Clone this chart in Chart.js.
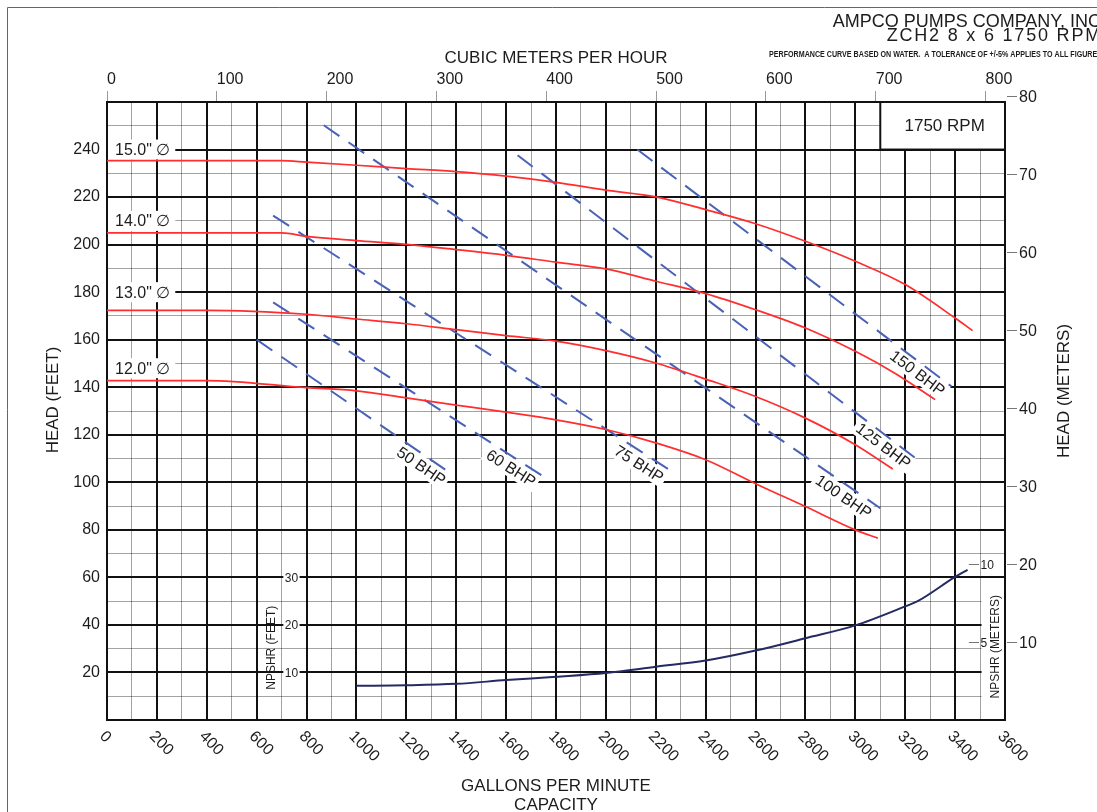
<!DOCTYPE html>
<html>
<head>
<meta charset="utf-8">
<title>ZCH2 8 x 6 1750 RPM</title>
<script src="https://cdn.jsdelivr.net/npm/chart.js@4.4.1/dist/chart.umd.min.js"></script>
<style>
  html, body { margin: 0; padding: 0; background: #fff; }
  #wrap { position: relative; width: 1097px; height: 812px; }
</style>
</head>
<body>
<div id="wrap"><canvas id="chart"></canvas></div>
<script>
// head curves, flow in US gpm, head in feet
const flow15 = [0, 700, 800, 1000, 1200, 1400, 1600, 1800, 2000, 2200, 2400, 2600, 2800, 3000, 3200, 3400, 3470];
const head15 = [235.3, 235.3, 234.7, 233.4, 232, 230.7, 228.8, 226.2, 222.9, 220.1, 214.7, 208.8, 201.4, 193, 183.2, 169.1, 163.8];
const flow14 = [0, 700, 800, 1000, 1200, 1400, 1600, 1800, 2000, 2200, 2400, 2600, 2800, 3000, 3160, 3320];
const head14 = [204.9, 204.9, 203.5, 201.7, 200.1, 197.9, 195.5, 192.6, 189.8, 184.6, 179.4, 172.6, 164.9, 155.1, 145.8, 134.8];
const flow13 = [0, 400, 800, 1000, 1200, 1400, 1600, 1800, 2000, 2200, 2400, 2600, 2800, 3000, 3150];
const head13 = [172.3, 172.3, 170.7, 168.7, 166.7, 164.2, 161.7, 159.4, 155.4, 150.2, 143.4, 136.1, 127, 115.8, 105.6];
const flow12 = [0, 400, 800, 1000, 1200, 1400, 1600, 1800, 2000, 2200, 2400, 2600, 2800, 3000, 3090];
const head12 = [142.8, 142.8, 139.8, 138.5, 135.5, 132.5, 129.5, 126.3, 122.2, 116.6, 109.5, 99.4, 89.8, 80, 76.5];
const impellerLabels = ['15.0" \u2205', '14.0" \u2205', '13.0" \u2205', '12.0" \u2205'];
const impellerLabelHead = [240, 210, 180, 148];

// brake horsepower lines (start / end points)
const bhpLabels = ['50 BHP', '60 BHP', '75 BHP', '100 BHP', '125 BHP', '150 BHP'];
const bhpStartGpm = [600, 666, 666, 869, 1646, 2126];
const bhpStartHead = [160, 175.7, 212.2, 250.2, 237.6, 240];
const bhpEndGpm = [1373, 1746, 2266, 3100, 3246, 3386];
const bhpEndHead = [104.1, 102.7, 104.5, 89.1, 109.8, 140.3];
const bhpLabelGpm = [1260, 1620, 2133, 2953, 3113, 3250];
const bhpLabelHead = [106.9, 106, 107.8, 94, 115.4, 146];

// NPSHR, feet
const npshFlow = [1000, 1200, 1400, 1600, 1800, 2000, 2200, 2400, 2600, 2800, 3000, 3200, 3250, 3400, 3450];
const npshFeet = [7.2, 7.3, 7.6, 8.4, 9.1, 9.9, 11.2, 12.5, 14.6, 17.2, 19.9, 23.9, 25, 30.1, 31.6];

// axis ticks
const gpmTicks = [0, 200, 400, 600, 800, 1000, 1200, 1400, 1600, 1800, 2000, 2200, 2400, 2600, 2800, 3000, 3200, 3400, 3600];
const m3hTicks = [0, 100, 200, 300, 400, 500, 600, 700, 800];
const headFtTicks = [20, 40, 60, 80, 100, 120, 140, 160, 180, 200, 220, 240];
const headMTicks = [10, 20, 30, 40, 50, 60, 70, 80];
const npshFtTicks = [10, 20, 30];
const npshMTicks = [5, 10];

const GPM_PER_M3H = 4.40287;
const FT_PER_M = 3.28084;
const FONT = 'Arial, "Liberation Sans", Helvetica, sans-serif';
const INK = '#1c1c1c';
const RED = '#ff2d2d';
const BLUE = '#4962b6';
const NAVY = '#242a62';

function pts(xs, ys) {
  return xs.map((x, i) => ({ x: x, y: ys[i] }));
}

function gridColor(major) {
  return ctx => (ctx.tick && ctx.tick.value % major === 0) ? '#111' : 'rgba(0,0,0,0.36)';
}
function gridWidth(major) {
  return ctx => (ctx.tick && ctx.tick.value % major === 0) ? 2 : 1;
}

const datasets = [];
[[flow15, head15], [flow14, head14], [flow13, head13], [flow12, head12]].forEach(c => {
  datasets.push({
    data: pts(c[0], c[1]),
    borderColor: RED,
    borderWidth: 1.7,
    pointRadius: 0,
    cubicInterpolationMode: 'monotone',
    yAxisID: 'y'
  });
});
bhpLabels.forEach((lab, i) => {
  datasets.push({
    data: pts([bhpStartGpm[i], bhpEndGpm[i]], [bhpStartHead[i], bhpEndHead[i]]),
    borderColor: BLUE,
    borderWidth: 2,
    borderDash: [19, 11],
    pointRadius: 0,
    yAxisID: 'y'
  });
});
datasets.push({
  data: pts(npshFlow, npshFeet),
  borderColor: NAVY,
  borderWidth: 2,
  pointRadius: 0,
  cubicInterpolationMode: 'monotone',
  yAxisID: 'yN'
});

function bhpLabelPos(chart, i) {
  const x = chart.scales.x, y = chart.scales.y;
  const dx = x.getPixelForValue(bhpEndGpm[i]) - x.getPixelForValue(bhpStartGpm[i]);
  const dy = y.getPixelForValue(bhpEndHead[i]) - y.getPixelForValue(bhpStartHead[i]);
  return {
    x: x.getPixelForValue(bhpLabelGpm[i]),
    y: y.getPixelForValue(bhpLabelHead[i]),
    angle: Math.atan2(dy, dx)
  };
}

const decor = {
  id: 'decor',
  beforeDraw(chart) {
    const c = chart.ctx;
    c.save();
    c.fillStyle = '#fff';
    c.fillRect(0, 0, chart.width, chart.height);
    c.strokeStyle = '#666';
    c.lineWidth = 1;
    c.beginPath();
    c.moveTo(7.5, chart.height);
    c.lineTo(7.5, 7.5);
    c.lineTo(chart.width, 7.5);
    c.stroke();
    c.restore();
  },
  beforeDatasetsDraw(chart) {
    const c = chart.ctx, a = chart.chartArea;
    const x = chart.scales.x, y = chart.scales.y, yN = chart.scales.yN;
    c.save();
    c.fillStyle = '#fff';
    c.font = '16px ' + FONT;
    impellerLabels.forEach((lab, i) => {
      const py = y.getPixelForValue(impellerLabelHead[i]);
      const w = c.measureText(lab).width;
      c.fillRect(a.left + 1, py - 10, w + 12, 20);
    });
    bhpLabels.forEach((lab, i) => {
      const p = bhpLabelPos(chart, i);
      const w = c.measureText(lab).width;
      c.save();
      c.translate(p.x, p.y);
      c.rotate(p.angle);
      c.fillRect(-w / 2 - 3, -9, w + 6, 18);
      c.restore();
    });
    npshFtTicks.forEach(v => {
      const py = yN.getPixelForValue(v);
      const x0 = x.getPixelForValue(707), x1 = x.getPixelForValue(772);
      c.fillRect(x0, py - 7, x1 - x0, 14);
    });
    const sx = x.getPixelForValue(3506);
    const sy = yN.getPixelForValue(28.5);
    c.fillRect(sx, sy, a.right - sx - 1, a.bottom - sy - 1);

    const bx = x.getPixelForValue(3100), by = y.getPixelForValue(240);
    c.fillRect(bx, a.top, a.right - bx, by - a.top);
    c.strokeStyle = '#111';
    c.lineWidth = 2;
    c.strokeRect(bx, a.top, a.right - bx, by - a.top);
    c.strokeRect(a.left, a.top, a.right - a.left, a.bottom - a.top);
    c.restore();
  },
  afterDatasetsDraw(chart) {
    const c = chart.ctx, a = chart.chartArea;
    const x = chart.scales.x, y = chart.scales.y, yN = chart.scales.yN;
    c.save();
    c.fillStyle = INK;
    c.textBaseline = 'middle';
    c.font = '16px ' + FONT;
    c.textAlign = 'left';
    impellerLabels.forEach((lab, i) => {
      c.fillText(lab, a.left + 8, y.getPixelForValue(impellerLabelHead[i]) + 1);
    });
    c.textAlign = 'center';
    bhpLabels.forEach((lab, i) => {
      const p = bhpLabelPos(chart, i);
      c.save();
      c.translate(p.x, p.y);
      c.rotate(p.angle);
      c.fillText(lab, 0, 1);
      c.restore();
    });
    c.font = '17px ' + FONT;
    const bx = x.getPixelForValue(3100), by = y.getPixelForValue(240);
    c.fillText('1750 RPM', (bx + a.right) / 2 + 2, (a.top + by) / 2 + 1);

    // NPSHR scales
    c.font = '12px ' + FONT;
    c.textAlign = 'right';
    npshFtTicks.forEach(v => {
      c.fillText(String(v), x.getPixelForValue(766), yN.getPixelForValue(v) + 1);
    });
    c.save();
    c.translate(x.getPixelForValue(661), yN.getPixelForValue(15.2));
    c.rotate(-Math.PI / 2);
    c.textAlign = 'center';
    c.fillText('NPSHR (FEET)', 0, 0);
    c.restore();

    c.strokeStyle = '#777';
    c.lineWidth = 1;
    c.textAlign = 'left';
    npshMTicks.forEach(m => {
      const py = Math.round(yN.getPixelForValue(m * FT_PER_M)) + 0.5;
      c.beginPath();
      c.moveTo(x.getPixelForValue(3455), py);
      c.lineTo(x.getPixelForValue(3496), py);
      c.stroke();
      c.fillText(String(m), x.getPixelForValue(3502), py + 1);
    });
    c.save();
    c.translate(x.getPixelForValue(3561), yN.getPixelForValue(15.4));
    c.rotate(-Math.PI / 2);
    c.textAlign = 'center';
    c.fillText('NPSHR (METERS)', 0, 0);
    c.restore();
    c.restore();
  },
  afterDraw(chart) {
    const c = chart.ctx, a = chart.chartArea;
    const x = chart.scales.x, y = chart.scales.y;
    const mid = (a.left + a.right) / 2;
    c.save();
    c.fillStyle = INK;

    // bottom gpm labels, turned 45 degrees
    c.font = '16px ' + FONT;
    c.textAlign = 'left';
    c.textBaseline = 'middle';
    gpmTicks.forEach(v => {
      c.save();
      c.translate(x.getPixelForValue(v) - 5, a.bottom + 14);
      c.rotate(Math.PI / 4);
      c.fillText(String(v), 0, 0);
      c.restore();
    });

    // right axis in meters
    c.strokeStyle = '#777';
    c.lineWidth = 1;
    headMTicks.forEach(m => {
      const py = Math.round(y.getPixelForValue(m * FT_PER_M)) + 0.5;
      c.beginPath();
      c.moveTo(a.right + 2, py);
      c.lineTo(a.right + 12, py);
      c.stroke();
      c.fillText(String(m), a.right + 14, py + 1);
    });

    // axis titles
    c.font = '17px ' + FONT;
    c.textAlign = 'center';
    c.textBaseline = 'alphabetic';
    c.fillText('CUBIC METERS PER HOUR', mid, 63);
    c.fillText('GALLONS PER MINUTE', mid, 791);
    c.fillText('CAPACITY', mid, 810);
    c.save();
    c.translate(58, 400);
    c.rotate(-Math.PI / 2);
    c.fillText('HEAD (FEET)', 0, 0);
    c.restore();
    c.save();
    c.translate(1069, 391);
    c.rotate(-Math.PI / 2);
    c.fillText('HEAD (METERS)', 0, 0);
    c.restore();

    // header
    c.textAlign = 'right';
    c.font = '18px ' + FONT;
    c.fillText('AMPCO PUMPS COMPANY, INC', 1101, 27);
    c.letterSpacing = '1.8px';
    c.fillText('ZCH2 8 x 6 1750 RPM', 1102, 41);
    c.letterSpacing = '0px';
    const note = 'PERFORMANCE CURVE BASED ON WATER.  A TOLERANCE OF +/-5% APPLIES TO ALL FIGURES';
    c.font = 'bold 9px ' + FONT;
    const w = c.measureText(note).width;
    c.save();
    c.translate(1102, 57);
    c.scale(333 / w, 1);
    c.fillText(note, 0, 0);
    c.restore();
    c.restore();
  }
};

new Chart(document.getElementById('chart'), {
  type: 'line',
  data: { datasets: datasets },
  options: {
    responsive: true,
    maintainAspectRatio: false,
    devicePixelRatio: 1,
    animation: false,
    events: [],
    layout: { padding: { left: 0, right: 92, top: 0, bottom: 0 } },
    plugins: { legend: { display: false }, tooltip: { enabled: false } },
    scales: {
      x: {
        type: 'linear', position: 'bottom', min: 0, max: 3600,
        ticks: { stepSize: 100, display: false },
        grid: { color: gridColor(200), lineWidth: gridWidth(200), drawTicks: false },
        border: { display: false },
        afterFit: s => { s.height = 92; }
      },
      xTop: {
        type: 'linear', position: 'top', min: 0, max: 3600 / GPM_PER_M3H,
        afterBuildTicks: s => { s.ticks = m3hTicks.map(v => ({ value: v })); },
        ticks: { autoSkip: false, align: 'start', padding: 2, color: INK, font: { size: 16, family: FONT } },
        grid: { drawOnChartArea: false, tickLength: 11, tickColor: '#999', tickWidth: 1 },
        border: { display: false },
        afterFit: s => { s.height = 102; }
      },
      y: {
        type: 'linear', position: 'left', min: 0, max: 260,
        ticks: {
          stepSize: 10, autoSkip: false, padding: 7, color: INK,
          font: { size: 16, family: FONT },
          callback: v => headFtTicks.includes(v) ? String(v) : ''
        },
        grid: { color: gridColor(20), lineWidth: gridWidth(20), drawTicks: false },
        border: { display: false },
        afterFit: s => { s.width = 107; }
      },
      yN: {
        type: 'linear', display: false, min: 0, max: 130
      }
    }
  },
  plugins: [decor]
});
</script>
</body>
</html>
